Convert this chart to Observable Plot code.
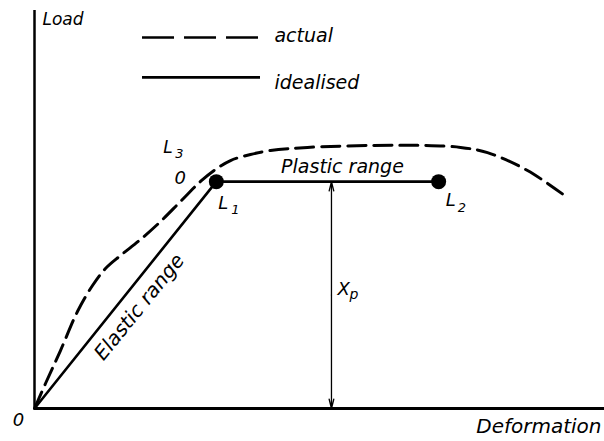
<!DOCTYPE html>
<html><head><meta charset="utf-8">
<script src="https://cdn.jsdelivr.net/npm/d3@7"></script>
<script src="https://cdn.jsdelivr.net/npm/@observablehq/plot@0.6"></script>
<style>body{margin:0;background:#fff}#chart svg{display:block}</style>
</head><body><div id="chart"></div>
<script>
// Actual (dashed) load–deformation curve
const actualDeformation = [0, 1.93, 4.56, 7.54, 10.18, 12.46, 15.09, 18.6, 22.11, 25.61, 29.12, 31.75, 34.39, 37.89, 41.4, 47.89, 59.47, 67.72, 74.74, 79.47, 86.49, 93.68];
const actualLoad =        [0, 6.28, 14.57, 24.37, 30.9, 35.18, 38.44, 42.46, 46.98, 52.01, 57.04, 60.05, 62.31, 63.82, 64.82, 65.6, 66.1, 66.1, 65.6, 64.3, 59.8, 52.8];
// Idealised (solid) curve: O -> L1 -> L2
const idealDeformation = [0, 31.9, 70.9];
const idealLoad = [0, 57.0, 57.0];
// Plastic load Xp
const plasticX = 52.1;
const plasticLoad = 57.0;
// Texts
const legendLabels = ["actual", "idealised"];
const axisLabels = ["Load", "Deformation", "0"];

const actual = actualDeformation.map((d, i) => ({x: d, y: actualLoad[i]}));
const ideal = idealDeformation.map((d, i) => ({x: d, y: idealLoad[i]}));
const L1 = ideal[1], L2 = ideal[2];
const elasticMid = {x: (ideal[0].x + L1.x) / 2, y: (ideal[0].y + L1.y) / 2};
const plasticMid = {x: (L1.x + L2.x) / 2, y: L1.y};
const xpMid = {x: plasticX, y: plasticLoad / 2};

const F = "DejaVu Sans, sans-serif";
const T = (data, o) => Plot.text(data, {fontFamily: F, fontStyle: "italic", fill: "black", lineAnchor: "bottom", textAnchor: "start", ...o});

const chart = Plot.plot({
  width: 604, height: 441,
  marginLeft: 34, marginRight: 0, marginTop: 10, marginBottom: 33,
  x: {domain: [0, 100], axis: null},
  y: {domain: [0, 100], axis: null},
  style: {fontFamily: F, background: "white"},
  marks: [
    // axes
    Plot.ruleX([0], {y1: 0, y2: 100, stroke: "black", strokeWidth: 2.5}),
    Plot.ruleY([0], {x1: 0, x2: 100, stroke: "black", strokeWidth: 3}),
    // actual curve
    Plot.line(actual, {x: "x", y: "y", curve: "catmull-rom", stroke: "black", strokeWidth: 3, strokeDasharray: "18,8"}),
    // idealised
    Plot.line(ideal, {x: "x", y: "y", stroke: "black", strokeWidth: 2.6}),
    Plot.dot([L1, L2], {x: "x", y: "y", r: 7.5, fill: "black", stroke: "none"}),
    // Xp arrows
    Plot.arrow([xpMid], {x1: "x", y1: "y", x2: "x", y2: () => plasticLoad, stroke: "black", strokeWidth: 1.3, headLength: 11, headAngle: 28}),
    Plot.arrow([xpMid], {x1: "x", y1: "y", x2: "x", y2: () => 0, stroke: "black", strokeWidth: 1.3, headLength: 11, headAngle: 28}),
    // legend
    Plot.ruleY([93.2], {x1: 18.95, x2: 39.65, stroke: "black", strokeWidth: 2.6, strokeDasharray: "32,10"}),
    Plot.ruleY([83.2], {x1: 18.95, x2: 39.65, stroke: "black", strokeWidth: 2.6}),
    T([{x: 42.1, y: 92.0}], {x: "x", y: "y", text: () => legendLabels[0], fontSize: 19}),
    T([{x: 42.1, y: 80.2}], {x: "x", y: "y", text: () => legendLabels[1], fontSize: 19}),
    // axis labels
    T([{x: 0, y: 100}], {x: "x", y: "y", text: () => axisLabels[0], fontSize: 17, dx: 8, dy: 14}),
    T([{x: 100, y: 0}], {x: "x", y: "y", text: () => axisLabels[1], fontSize: 20, textAnchor: "end", dx: -3, dy: 24}),
    T([{x: 0, y: 0}], {x: "x", y: "y", text: () => axisLabels[2], fontSize: 18, textAnchor: "middle", dx: -16, dy: 17}),
    // annotations near L1
    T([L1], {x: "x", y: "y", text: () => "L", fontSize: 17, dx: -53, dy: -29}),
    T([L1], {x: "x", y: "y", text: () => "3", fontSize: 13, dx: -41, dy: -24}),
    T([L1], {x: "x", y: "y", text: () => "0", fontSize: 18, textAnchor: "middle", dx: -36, dy: 2}),
    T([L1], {x: "x", y: "y", text: () => "L", fontSize: 18, dx: 2, dy: 27}),
    T([L1], {x: "x", y: "y", text: () => "1", fontSize: 13, dx: 15, dy: 32}),
    T([L2], {x: "x", y: "y", text: () => "L", fontSize: 18, dx: 7, dy: 24}),
    T([L2], {x: "x", y: "y", text: () => "2", fontSize: 13, dx: 19, dy: 30}),
    T([plasticMid], {x: "x", y: "y", text: () => "Plastic range", fontSize: 19, textAnchor: "middle", dx: 15, dy: -9}),
    T([elasticMid], {x: "x", y: "y", text: () => "Elastic range", fontSize: 20, textAnchor: "middle", lineAnchor: "middle", rotate: -51, dx: 14, dy: 12}),
    T([xpMid], {x: "x", y: "y", text: () => "X", fontSize: 18, dx: 6, dy: 0}),
    T([xpMid], {x: "x", y: "y", text: () => "p", fontSize: 14, dx: 18, dy: 4})
  ]
});
document.getElementById("chart").append(chart);
</script>
</body></html>
